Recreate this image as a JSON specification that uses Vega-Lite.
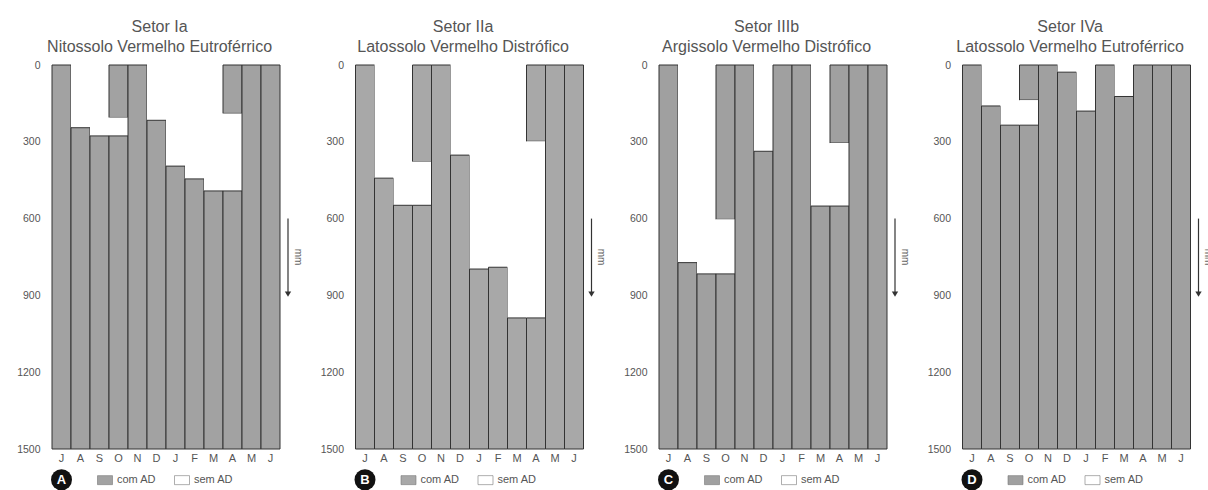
{
  "$schema": "https://vega.github.io/schema/vega-lite/v6.json",
  "padding": {"left": 16, "top": 19, "right": 0, "bottom": 0},
  "config": {
    "font": "Liberation Sans",
    "view": {"stroke": null},
    "title": {"fontSize": 16, "fontWeight": "normal", "color": "#555555", "lineHeight": 20, "offset": 5, "frame": "bounds", "anchor": "middle"},
    "axisY": {"format": "d", "labelFontSize": 10.5, "labelColor": "#555555", "domain": false, "ticks": false, "tickSize": 0, "labelPadding": 12, "grid": false, "title": null},
    "axisX": {"labelAngle": 0, "labelFontSize": 11, "labelColor": "#555555", "domain": false, "ticks": false, "tickSize": 0, "labelPadding": 3, "grid": false, "title": null},
    "legend": {"title": null, "orient": "none", "legendX": 45, "legendY": 407, "direction": "horizontal", "symbolType": "M-1,-0.6H1V0.6H-1Z", "symbolSize": 225, "symbolStrokeColor": "#777777", "symbolStrokeWidth": 0.6, "symbolOpacity": 1, "labelFontSize": 11, "labelColor": "#555555", "columnPadding": 16, "labelOffset": 4}
  },
  "datasets": {
    "seg": [
      {"setor": "Ia", "mes": "Jul", "ini": 0, "fim": 1500, "tipo": "com AD"},
      {"setor": "Ia", "mes": "Ago", "ini": 0, "fim": 245, "tipo": "sem AD"},
      {"setor": "Ia", "mes": "Ago", "ini": 245, "fim": 1500, "tipo": "com AD"},
      {"setor": "Ia", "mes": "Set", "ini": 0, "fim": 277, "tipo": "sem AD"},
      {"setor": "Ia", "mes": "Set", "ini": 277, "fim": 1500, "tipo": "com AD"},
      {"setor": "Ia", "mes": "Out", "ini": 0, "fim": 205, "tipo": "com AD"},
      {"setor": "Ia", "mes": "Out", "ini": 205, "fim": 277, "tipo": "sem AD"},
      {"setor": "Ia", "mes": "Out", "ini": 277, "fim": 1500, "tipo": "com AD"},
      {"setor": "Ia", "mes": "Nov", "ini": 0, "fim": 1500, "tipo": "com AD"},
      {"setor": "Ia", "mes": "Dez", "ini": 0, "fim": 216, "tipo": "sem AD"},
      {"setor": "Ia", "mes": "Dez", "ini": 216, "fim": 1500, "tipo": "com AD"},
      {"setor": "Ia", "mes": "Jan", "ini": 0, "fim": 395, "tipo": "sem AD"},
      {"setor": "Ia", "mes": "Jan", "ini": 395, "fim": 1500, "tipo": "com AD"},
      {"setor": "Ia", "mes": "Fev", "ini": 0, "fim": 445, "tipo": "sem AD"},
      {"setor": "Ia", "mes": "Fev", "ini": 445, "fim": 1500, "tipo": "com AD"},
      {"setor": "Ia", "mes": "Mar", "ini": 0, "fim": 492, "tipo": "sem AD"},
      {"setor": "Ia", "mes": "Mar", "ini": 492, "fim": 1500, "tipo": "com AD"},
      {"setor": "Ia", "mes": "Abr", "ini": 0, "fim": 189, "tipo": "com AD"},
      {"setor": "Ia", "mes": "Abr", "ini": 189, "fim": 492, "tipo": "sem AD"},
      {"setor": "Ia", "mes": "Abr", "ini": 492, "fim": 1500, "tipo": "com AD"},
      {"setor": "Ia", "mes": "Mai", "ini": 0, "fim": 1500, "tipo": "com AD"},
      {"setor": "Ia", "mes": "Jun", "ini": 0, "fim": 1500, "tipo": "com AD"},

      {"setor": "IIa", "mes": "Jul", "ini": 0, "fim": 1500, "tipo": "com AD"},
      {"setor": "IIa", "mes": "Ago", "ini": 0, "fim": 442, "tipo": "sem AD"},
      {"setor": "IIa", "mes": "Ago", "ini": 442, "fim": 1500, "tipo": "com AD"},
      {"setor": "IIa", "mes": "Set", "ini": 0, "fim": 548, "tipo": "sem AD"},
      {"setor": "IIa", "mes": "Set", "ini": 548, "fim": 1500, "tipo": "com AD"},
      {"setor": "IIa", "mes": "Out", "ini": 0, "fim": 377, "tipo": "com AD"},
      {"setor": "IIa", "mes": "Out", "ini": 377, "fim": 548, "tipo": "sem AD"},
      {"setor": "IIa", "mes": "Out", "ini": 548, "fim": 1500, "tipo": "com AD"},
      {"setor": "IIa", "mes": "Nov", "ini": 0, "fim": 1500, "tipo": "com AD"},
      {"setor": "IIa", "mes": "Dez", "ini": 0, "fim": 352, "tipo": "sem AD"},
      {"setor": "IIa", "mes": "Dez", "ini": 352, "fim": 1500, "tipo": "com AD"},
      {"setor": "IIa", "mes": "Jan", "ini": 0, "fim": 797, "tipo": "sem AD"},
      {"setor": "IIa", "mes": "Jan", "ini": 797, "fim": 1500, "tipo": "com AD"},
      {"setor": "IIa", "mes": "Fev", "ini": 0, "fim": 790, "tipo": "sem AD"},
      {"setor": "IIa", "mes": "Fev", "ini": 790, "fim": 1500, "tipo": "com AD"},
      {"setor": "IIa", "mes": "Mar", "ini": 0, "fim": 988, "tipo": "sem AD"},
      {"setor": "IIa", "mes": "Mar", "ini": 988, "fim": 1500, "tipo": "com AD"},
      {"setor": "IIa", "mes": "Abr", "ini": 0, "fim": 298, "tipo": "com AD"},
      {"setor": "IIa", "mes": "Abr", "ini": 298, "fim": 988, "tipo": "sem AD"},
      {"setor": "IIa", "mes": "Abr", "ini": 988, "fim": 1500, "tipo": "com AD"},
      {"setor": "IIa", "mes": "Mai", "ini": 0, "fim": 1500, "tipo": "com AD"},
      {"setor": "IIa", "mes": "Jun", "ini": 0, "fim": 1500, "tipo": "com AD"},

      {"setor": "IIIb", "mes": "Jul", "ini": 0, "fim": 1500, "tipo": "com AD"},
      {"setor": "IIIb", "mes": "Ago", "ini": 0, "fim": 772, "tipo": "sem AD"},
      {"setor": "IIIb", "mes": "Ago", "ini": 772, "fim": 1500, "tipo": "com AD"},
      {"setor": "IIIb", "mes": "Set", "ini": 0, "fim": 816, "tipo": "sem AD"},
      {"setor": "IIIb", "mes": "Set", "ini": 816, "fim": 1500, "tipo": "com AD"},
      {"setor": "IIIb", "mes": "Out", "ini": 0, "fim": 603, "tipo": "com AD"},
      {"setor": "IIIb", "mes": "Out", "ini": 603, "fim": 816, "tipo": "sem AD"},
      {"setor": "IIIb", "mes": "Out", "ini": 816, "fim": 1500, "tipo": "com AD"},
      {"setor": "IIIb", "mes": "Nov", "ini": 0, "fim": 1500, "tipo": "com AD"},
      {"setor": "IIIb", "mes": "Dez", "ini": 0, "fim": 337, "tipo": "sem AD"},
      {"setor": "IIIb", "mes": "Dez", "ini": 337, "fim": 1500, "tipo": "com AD"},
      {"setor": "IIIb", "mes": "Jan", "ini": 0, "fim": 1500, "tipo": "com AD"},
      {"setor": "IIIb", "mes": "Fev", "ini": 0, "fim": 1500, "tipo": "com AD"},
      {"setor": "IIIb", "mes": "Mar", "ini": 0, "fim": 551, "tipo": "sem AD"},
      {"setor": "IIIb", "mes": "Mar", "ini": 551, "fim": 1500, "tipo": "com AD"},
      {"setor": "IIIb", "mes": "Abr", "ini": 0, "fim": 305, "tipo": "com AD"},
      {"setor": "IIIb", "mes": "Abr", "ini": 305, "fim": 551, "tipo": "sem AD"},
      {"setor": "IIIb", "mes": "Abr", "ini": 551, "fim": 1500, "tipo": "com AD"},
      {"setor": "IIIb", "mes": "Mai", "ini": 0, "fim": 1500, "tipo": "com AD"},
      {"setor": "IIIb", "mes": "Jun", "ini": 0, "fim": 1500, "tipo": "com AD"},

      {"setor": "IVa", "mes": "Jul", "ini": 0, "fim": 1500, "tipo": "com AD"},
      {"setor": "IVa", "mes": "Ago", "ini": 0, "fim": 160, "tipo": "sem AD"},
      {"setor": "IVa", "mes": "Ago", "ini": 160, "fim": 1500, "tipo": "com AD"},
      {"setor": "IVa", "mes": "Set", "ini": 0, "fim": 235, "tipo": "sem AD"},
      {"setor": "IVa", "mes": "Set", "ini": 235, "fim": 1500, "tipo": "com AD"},
      {"setor": "IVa", "mes": "Out", "ini": 0, "fim": 137, "tipo": "com AD"},
      {"setor": "IVa", "mes": "Out", "ini": 137, "fim": 235, "tipo": "sem AD"},
      {"setor": "IVa", "mes": "Out", "ini": 235, "fim": 1500, "tipo": "com AD"},
      {"setor": "IVa", "mes": "Nov", "ini": 0, "fim": 1500, "tipo": "com AD"},
      {"setor": "IVa", "mes": "Dez", "ini": 0, "fim": 28, "tipo": "sem AD"},
      {"setor": "IVa", "mes": "Dez", "ini": 28, "fim": 1500, "tipo": "com AD"},
      {"setor": "IVa", "mes": "Jan", "ini": 0, "fim": 180, "tipo": "sem AD"},
      {"setor": "IVa", "mes": "Jan", "ini": 180, "fim": 1500, "tipo": "com AD"},
      {"setor": "IVa", "mes": "Fev", "ini": 0, "fim": 1500, "tipo": "com AD"},
      {"setor": "IVa", "mes": "Mar", "ini": 0, "fim": 123, "tipo": "sem AD"},
      {"setor": "IVa", "mes": "Mar", "ini": 123, "fim": 1500, "tipo": "com AD"},
      {"setor": "IVa", "mes": "Abr", "ini": 0, "fim": 1500, "tipo": "com AD"},
      {"setor": "IVa", "mes": "Mai", "ini": 0, "fim": 1500, "tipo": "com AD"},
      {"setor": "IVa", "mes": "Jun", "ini": 0, "fim": 1500, "tipo": "com AD"}
    ]
  },
  "bounds": "flush",
  "spacing": 75.5,
  "resolve": {"scale": {"color": "independent"}, "legend": {"color": "independent"}},
  "hconcat": [
    {
      "width": 228, "height": 384,
      "title": {"text": ["Setor Ia", "Nitossolo Vermelho Eutroférrico"]},
      "layer": [
        {
          "data": {"name": "seg"},
          "transform": [{"filter": "datum.setor === 'Ia'"}],
          "mark": {"type": "bar", "stroke": "#333333", "strokeWidth": 1},
          "encoding": {
            "x": {"field": "mes", "type": "ordinal", "sort": ["Jul","Ago","Set","Out","Nov","Dez","Jan","Fev","Mar","Abr","Mai","Jun"], "scale": {"paddingInner": 0, "paddingOuter": 0}, "axis": {"labelExpr": "substring(datum.label,0,1)", "title": null}},
            "y": {"field": "ini", "type": "quantitative", "scale": {"domain": [0, 1500], "reverse": true, "nice": false}, "axis": {"title": null, "values": [0, 300, 600, 900, 1200, 1500]}},
            "y2": {"field": "fim"},
            "color": {"field": "tipo", "type": "nominal", "scale": {"domain": ["com AD", "sem AD"], "range": ["#a2a2a2", "#ffffff"]}},
            "strokeOpacity": {"condition": {"test": "datum.tipo === 'com AD'", "value": 1}, "value": 0}
          }
        },
        {
          "data": {"values": [{"letra": "A"}]},
          "mark": {"type": "point", "shape": "circle", "filled": true, "size": 441, "color": "#111111", "opacity": 1},
          "encoding": {"x": {"datum": "Jul", "type": "ordinal"}, "y": {"datum": 1620, "type": "quantitative", "scale": {"domain": [0, 1500], "reverse": true, "nice": false}}}
        },
        {
          "data": {"values": [{"letra": "A"}]},
          "mark": {"type": "text", "color": "#ffffff", "fontWeight": "bold", "fontSize": 13, "baseline": "middle", "align": "center"},
          "encoding": {"x": {"datum": "Jul", "type": "ordinal"}, "y": {"datum": 1620, "type": "quantitative", "scale": {"domain": [0, 1500], "reverse": true, "nice": false}}, "text": {"field": "letra"}}
        },
        {
          "data": {"values": [{}]},
          "mark": {"type": "rule", "xOffset": 17.5, "color": "#333333", "strokeWidth": 1.2},
          "encoding": {"x": {"datum": "Jun", "type": "ordinal"}, "y": {"datum": 600, "type": "quantitative", "scale": {"domain": [0, 1500], "reverse": true, "nice": false}}, "y2": {"datum": 890}}
        },
        {
          "data": {"values": [{}]},
          "mark": {"type": "point", "shape": "triangle-down", "filled": true, "size": 40, "color": "#333333", "opacity": 1, "xOffset": 17.5},
          "encoding": {"x": {"datum": "Jun", "type": "ordinal"}, "y": {"datum": 895, "type": "quantitative", "scale": {"domain": [0, 1500], "reverse": true, "nice": false}}}
        },
        {
          "data": {"values": [{"u": "mm"}]},
          "mark": {"type": "text", "angle": 90, "fontSize": 10, "color": "#666666", "xOffset": 27, "baseline": "middle", "align": "center"},
          "encoding": {"x": {"datum": "Jun", "type": "ordinal"}, "y": {"datum": 750, "type": "quantitative", "scale": {"domain": [0, 1500], "reverse": true, "nice": false}}, "text": {"field": "u"}}
        }
      ]
    },
    {
      "width": 228, "height": 384,
      "title": {"text": ["Setor IIa", "Latossolo Vermelho Distrófico"]},
      "layer": [
        {
          "data": {"name": "seg"},
          "transform": [{"filter": "datum.setor === 'IIa'"}],
          "mark": {"type": "bar", "stroke": "#333333", "strokeWidth": 1},
          "encoding": {
            "x": {"field": "mes", "type": "ordinal", "sort": ["Jul","Ago","Set","Out","Nov","Dez","Jan","Fev","Mar","Abr","Mai","Jun"], "scale": {"paddingInner": 0, "paddingOuter": 0}, "axis": {"labelExpr": "substring(datum.label,0,1)", "title": null}},
            "y": {"field": "ini", "type": "quantitative", "scale": {"domain": [0, 1500], "reverse": true, "nice": false}, "axis": {"title": null, "values": [0, 300, 600, 900, 1200, 1500]}},
            "y2": {"field": "fim"},
            "color": {"field": "tipo", "type": "nominal", "scale": {"domain": ["com AD", "sem AD"], "range": ["#a8a8a8", "#ffffff"]}},
            "strokeOpacity": {"condition": {"test": "datum.tipo === 'com AD'", "value": 1}, "value": 0}
          }
        },
        {
          "data": {"values": [{"letra": "B"}]},
          "mark": {"type": "point", "shape": "circle", "filled": true, "size": 441, "color": "#111111", "opacity": 1},
          "encoding": {"x": {"datum": "Jul", "type": "ordinal"}, "y": {"datum": 1620, "type": "quantitative", "scale": {"domain": [0, 1500], "reverse": true, "nice": false}}}
        },
        {
          "data": {"values": [{"letra": "B"}]},
          "mark": {"type": "text", "color": "#ffffff", "fontWeight": "bold", "fontSize": 13, "baseline": "middle", "align": "center"},
          "encoding": {"x": {"datum": "Jul", "type": "ordinal"}, "y": {"datum": 1620, "type": "quantitative", "scale": {"domain": [0, 1500], "reverse": true, "nice": false}}, "text": {"field": "letra"}}
        },
        {
          "data": {"values": [{}]},
          "mark": {"type": "rule", "xOffset": 17.5, "color": "#333333", "strokeWidth": 1.2},
          "encoding": {"x": {"datum": "Jun", "type": "ordinal"}, "y": {"datum": 600, "type": "quantitative", "scale": {"domain": [0, 1500], "reverse": true, "nice": false}}, "y2": {"datum": 890}}
        },
        {
          "data": {"values": [{}]},
          "mark": {"type": "point", "shape": "triangle-down", "filled": true, "size": 40, "color": "#333333", "opacity": 1, "xOffset": 17.5},
          "encoding": {"x": {"datum": "Jun", "type": "ordinal"}, "y": {"datum": 895, "type": "quantitative", "scale": {"domain": [0, 1500], "reverse": true, "nice": false}}}
        },
        {
          "data": {"values": [{"u": "mm"}]},
          "mark": {"type": "text", "angle": 90, "fontSize": 10, "color": "#666666", "xOffset": 27, "baseline": "middle", "align": "center"},
          "encoding": {"x": {"datum": "Jun", "type": "ordinal"}, "y": {"datum": 750, "type": "quantitative", "scale": {"domain": [0, 1500], "reverse": true, "nice": false}}, "text": {"field": "u"}}
        }
      ]
    },
    {
      "width": 228, "height": 384,
      "title": {"text": ["Setor IIIb", "Argissolo Vermelho Distrófico"]},
      "layer": [
        {
          "data": {"name": "seg"},
          "transform": [{"filter": "datum.setor === 'IIIb'"}],
          "mark": {"type": "bar", "stroke": "#333333", "strokeWidth": 1},
          "encoding": {
            "x": {"field": "mes", "type": "ordinal", "sort": ["Jul","Ago","Set","Out","Nov","Dez","Jan","Fev","Mar","Abr","Mai","Jun"], "scale": {"paddingInner": 0, "paddingOuter": 0}, "axis": {"labelExpr": "substring(datum.label,0,1)", "title": null}},
            "y": {"field": "ini", "type": "quantitative", "scale": {"domain": [0, 1500], "reverse": true, "nice": false}, "axis": {"title": null, "values": [0, 300, 600, 900, 1200, 1500]}},
            "y2": {"field": "fim"},
            "color": {"field": "tipo", "type": "nominal", "scale": {"domain": ["com AD", "sem AD"], "range": ["#a0a0a0", "#ffffff"]}},
            "strokeOpacity": {"condition": {"test": "datum.tipo === 'com AD'", "value": 1}, "value": 0}
          }
        },
        {
          "data": {"values": [{"letra": "C"}]},
          "mark": {"type": "point", "shape": "circle", "filled": true, "size": 441, "color": "#111111", "opacity": 1},
          "encoding": {"x": {"datum": "Jul", "type": "ordinal"}, "y": {"datum": 1620, "type": "quantitative", "scale": {"domain": [0, 1500], "reverse": true, "nice": false}}}
        },
        {
          "data": {"values": [{"letra": "C"}]},
          "mark": {"type": "text", "color": "#ffffff", "fontWeight": "bold", "fontSize": 13, "baseline": "middle", "align": "center"},
          "encoding": {"x": {"datum": "Jul", "type": "ordinal"}, "y": {"datum": 1620, "type": "quantitative", "scale": {"domain": [0, 1500], "reverse": true, "nice": false}}, "text": {"field": "letra"}}
        },
        {
          "data": {"values": [{}]},
          "mark": {"type": "rule", "xOffset": 17.5, "color": "#333333", "strokeWidth": 1.2},
          "encoding": {"x": {"datum": "Jun", "type": "ordinal"}, "y": {"datum": 600, "type": "quantitative", "scale": {"domain": [0, 1500], "reverse": true, "nice": false}}, "y2": {"datum": 890}}
        },
        {
          "data": {"values": [{}]},
          "mark": {"type": "point", "shape": "triangle-down", "filled": true, "size": 40, "color": "#333333", "opacity": 1, "xOffset": 17.5},
          "encoding": {"x": {"datum": "Jun", "type": "ordinal"}, "y": {"datum": 895, "type": "quantitative", "scale": {"domain": [0, 1500], "reverse": true, "nice": false}}}
        },
        {
          "data": {"values": [{"u": "mm"}]},
          "mark": {"type": "text", "angle": 90, "fontSize": 10, "color": "#666666", "xOffset": 27, "baseline": "middle", "align": "center"},
          "encoding": {"x": {"datum": "Jun", "type": "ordinal"}, "y": {"datum": 750, "type": "quantitative", "scale": {"domain": [0, 1500], "reverse": true, "nice": false}}, "text": {"field": "u"}}
        }
      ]
    },
    {
      "width": 228, "height": 384,
      "title": {"text": ["Setor IVa", "Latossolo Vermelho Eutroférrico"]},
      "layer": [
        {
          "data": {"name": "seg"},
          "transform": [{"filter": "datum.setor === 'IVa'"}],
          "mark": {"type": "bar", "stroke": "#333333", "strokeWidth": 1},
          "encoding": {
            "x": {"field": "mes", "type": "ordinal", "sort": ["Jul","Ago","Set","Out","Nov","Dez","Jan","Fev","Mar","Abr","Mai","Jun"], "scale": {"paddingInner": 0, "paddingOuter": 0}, "axis": {"labelExpr": "substring(datum.label,0,1)", "title": null}},
            "y": {"field": "ini", "type": "quantitative", "scale": {"domain": [0, 1500], "reverse": true, "nice": false}, "axis": {"title": null, "values": [0, 300, 600, 900, 1200, 1500]}},
            "y2": {"field": "fim"},
            "color": {"field": "tipo", "type": "nominal", "scale": {"domain": ["com AD", "sem AD"], "range": ["#a0a0a0", "#ffffff"]}},
            "strokeOpacity": {"condition": {"test": "datum.tipo === 'com AD'", "value": 1}, "value": 0}
          }
        },
        {
          "data": {"values": [{"letra": "D"}]},
          "mark": {"type": "point", "shape": "circle", "filled": true, "size": 441, "color": "#111111", "opacity": 1},
          "encoding": {"x": {"datum": "Jul", "type": "ordinal"}, "y": {"datum": 1620, "type": "quantitative", "scale": {"domain": [0, 1500], "reverse": true, "nice": false}}}
        },
        {
          "data": {"values": [{"letra": "D"}]},
          "mark": {"type": "text", "color": "#ffffff", "fontWeight": "bold", "fontSize": 13, "baseline": "middle", "align": "center"},
          "encoding": {"x": {"datum": "Jul", "type": "ordinal"}, "y": {"datum": 1620, "type": "quantitative", "scale": {"domain": [0, 1500], "reverse": true, "nice": false}}, "text": {"field": "letra"}}
        },
        {
          "data": {"values": [{}]},
          "mark": {"type": "rule", "xOffset": 17.5, "color": "#333333", "strokeWidth": 1.2},
          "encoding": {"x": {"datum": "Jun", "type": "ordinal"}, "y": {"datum": 600, "type": "quantitative", "scale": {"domain": [0, 1500], "reverse": true, "nice": false}}, "y2": {"datum": 890}}
        },
        {
          "data": {"values": [{}]},
          "mark": {"type": "point", "shape": "triangle-down", "filled": true, "size": 40, "color": "#333333", "opacity": 1, "xOffset": 17.5},
          "encoding": {"x": {"datum": "Jun", "type": "ordinal"}, "y": {"datum": 895, "type": "quantitative", "scale": {"domain": [0, 1500], "reverse": true, "nice": false}}}
        },
        {
          "data": {"values": [{"u": "mm"}]},
          "mark": {"type": "text", "angle": 90, "fontSize": 10, "color": "#666666", "xOffset": 27, "baseline": "middle", "align": "center"},
          "encoding": {"x": {"datum": "Jun", "type": "ordinal"}, "y": {"datum": 750, "type": "quantitative", "scale": {"domain": [0, 1500], "reverse": true, "nice": false}}, "text": {"field": "u"}}
        }
      ]
    }
  ]
}
